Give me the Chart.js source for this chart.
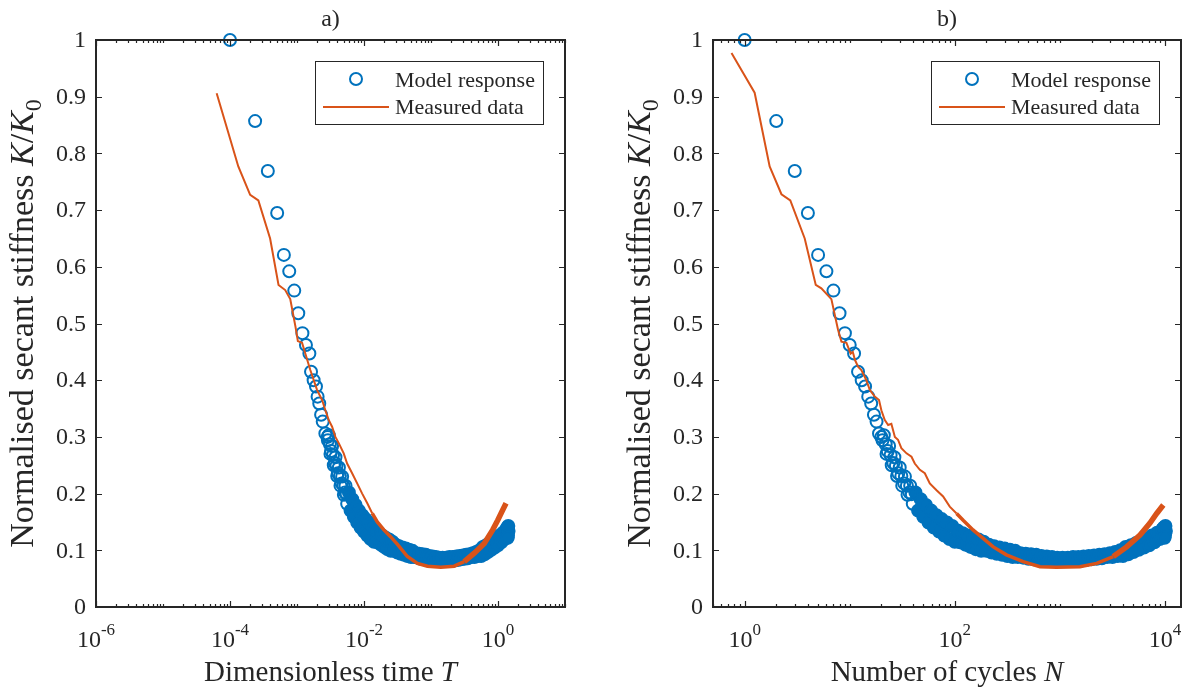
<!DOCTYPE html>
<html>
<head>
<meta charset="utf-8">
<script src="https://cdn.jsdelivr.net/npm/chart.js@4.4.0/dist/chart.umd.min.js"></script>
<style>
  html, body { margin: 0; padding: 0; background: #fff; }
  #wrap { position: relative; width: 1192px; height: 689px; }
  canvas { position: absolute; top: 0; }
</style>
</head>
<body>
<div id="wrap">
  <canvas id="chartA" width="596" height="689" style="left:0"></canvas>
  <canvas id="chartB" width="596" height="689" style="left:596px"></canvas>
</div>
<script>
// model response: one value per listed cycle, same stiffness values in both panels
const modelN = [1, 2, 3, 4, 5, 6, 7, 8, 9, 10, 11, 12, 13, 14, 15, 16, 17, 18, 19, 20,
  21.1, 22.4, 23.7, 25.1, 26.6, 28.2, 29.9, 31.6, 33.5, 35.5, 37.6, 39.8, 42.2, 44.7, 47.3, 50.1, 53.1, 56.2, 59.6, 63.1,
  66.8, 70.8, 75.0, 79.4, 84.1, 89.1, 94.4, 100,
  106, 112, 119, 126, 133, 141, 150, 158, 168, 178, 188, 200, 211, 224, 237, 251, 266, 282, 299, 316,
  335, 355, 376, 398, 422, 447, 473, 501, 531, 562, 596, 631, 668, 708, 750, 794, 841, 891, 944, 1000,
  1059, 1122, 1189, 1259, 1334, 1413, 1496, 1585, 1679, 1778, 1884, 1995, 2113, 2239, 2371, 2512, 2661, 2818, 2985, 3162,
  3350, 3548, 3758, 3981, 4217, 4467, 4732, 5012, 5309, 5623, 5957, 6310, 6683, 7079, 7499, 7943, 8414, 8913, 9441, 10000,
  9700, 10200, 9900, 10100,
  20.5, 22, 23, 24.5, 26, 27.5, 29, 31, 33, 35, 37, 39];
const modelT = [1.0e-4, 2.37e-4, 3.67e-4, 5.06e-4, 6.37e-4, 7.66e-4, 9.10e-4, 1.045e-3, 1.205e-3, 1.36e-3,
  1.53e-3, 1.62e-3, 1.77e-3, 1.92e-3, 2.03e-3, 2.15e-3, 2.29e-3, 2.42e-3, 2.65e-3, 2.87e-3,
  2.98e-3, 3.16e-3, 3.34e-3, 3.54e-3, 3.75e-3, 3.98e-3, 4.22e-3, 4.46e-3, 4.72e-3, 5.01e-3, 5.30e-3, 5.61e-3, 5.95e-3, 6.30e-3,
  6.67e-3, 7.06e-3, 7.49e-3, 7.92e-3, 8.40e-3, 8.90e-3, 9.42e-3, 9.98e-3, 1.058e-2, 1.12e-2, 1.186e-2, 1.256e-2, 1.331e-2, 1.41e-2,
  1.49e-2, 1.58e-2, 1.68e-2, 1.78e-2, 1.88e-2, 1.99e-2, 2.12e-2, 2.23e-2, 2.37e-2, 2.51e-2, 2.65e-2, 2.82e-2, 2.98e-2, 3.16e-2,
  3.34e-2, 3.54e-2, 3.75e-2, 3.98e-2, 4.22e-2, 4.46e-2, 4.72e-2, 5.01e-2, 5.30e-2, 5.61e-2, 5.95e-2, 6.30e-2, 6.67e-2, 7.06e-2,
  7.49e-2, 7.92e-2, 8.40e-2, 8.90e-2, 9.42e-2, 9.98e-2, 0.1058, 0.112, 0.1186, 0.1256, 0.1331, 0.141,
  0.149, 0.158, 0.168, 0.178, 0.188, 0.199, 0.211, 0.223, 0.237, 0.251, 0.266, 0.281, 0.298, 0.316, 0.334, 0.354, 0.375, 0.397,
  0.421, 0.446, 0.472, 0.500, 0.530, 0.561, 0.595, 0.630, 0.667, 0.707, 0.749, 0.793, 0.840, 0.890, 0.942, 0.998, 1.057, 1.120,
  1.186, 1.257, 1.331, 1.41,
  1.368, 1.438, 1.396, 1.424,
  2.89e-3, 3.10e-3, 3.24e-3, 3.45e-3, 3.67e-3, 3.88e-3, 4.09e-3, 4.37e-3, 4.65e-3, 4.94e-3, 5.22e-3, 5.50e-3];
const modelK = [1.000, 0.857, 0.769, 0.695, 0.621, 0.592, 0.558, 0.518, 0.483, 0.462,
  0.447, 0.415, 0.400, 0.389, 0.371, 0.359, 0.339, 0.327, 0.306, 0.300,
  0.303, 0.270, 0.284, 0.250, 0.264, 0.231, 0.246, 0.214, 0.230, 0.198, 0.214, 0.182, 0.202, 0.170, 0.190, 0.159, 0.180, 0.149, 0.170, 0.140,
  0.162, 0.133, 0.155, 0.126, 0.149, 0.120, 0.143, 0.115,
  0.135, 0.114, 0.130, 0.110, 0.126, 0.106, 0.122, 0.102, 0.119, 0.099, 0.115, 0.099, 0.110, 0.096, 0.107, 0.094, 0.105, 0.092, 0.103, 0.090,
  0.101, 0.088, 0.099, 0.088, 0.095, 0.087, 0.094, 0.085, 0.093, 0.084, 0.092, 0.084, 0.090, 0.083, 0.089, 0.082, 0.088, 0.082, 0.087, 0.081,
  0.087, 0.081, 0.087, 0.081, 0.088, 0.082, 0.088, 0.082, 0.089, 0.083, 0.090, 0.084, 0.091, 0.085, 0.092, 0.086, 0.093, 0.088, 0.095, 0.088,
  0.097, 0.090, 0.100, 0.090, 0.106, 0.093, 0.109, 0.097, 0.113, 0.101, 0.117, 0.105, 0.121, 0.109, 0.126, 0.114, 0.131, 0.120, 0.137, 0.126,
  0.140, 0.134, 0.122, 0.143,
  0.294, 0.287, 0.275, 0.268, 0.254, 0.249, 0.236, 0.231, 0.218, 0.214, 0.202, 0.199];

// measured data, panel b (cycles)
const measN = [0.75, 1.245, 1.73, 2.24, 2.72, 3.73, 4.75, 5.37, 6.69, 7.74, 8.34, 9.31, 10.2, 10.7, 11.2, 12.0, 12.9, 14.4, 15.5, 17.3,
  19.0, 20.0, 21.5, 23.2, 24.9, 26.9, 28.8, 31.0, 34.7, 38.7, 41.6, 46.5, 51.8, 57.8, 67.0, 77.4, 89.5, 104, 120, 149,
  186, 232, 310, 447, 646, 931, 1549, 2239, 3221, 4315, 5781, 7194, 8337, 9638];
const measNK = [0.977, 0.907, 0.777, 0.728, 0.717, 0.650, 0.568, 0.562, 0.543, 0.489, 0.468, 0.466, 0.447, 0.450, 0.436, 0.424, 0.418, 0.400, 0.383, 0.371,
  0.365, 0.347, 0.330, 0.321, 0.323, 0.300, 0.295, 0.280, 0.271, 0.265, 0.253, 0.242, 0.236, 0.218, 0.206, 0.195, 0.177, 0.165, 0.153, 0.136,
  0.121, 0.106, 0.092, 0.080, 0.071, 0.070, 0.071, 0.077, 0.089, 0.106, 0.127, 0.148, 0.165, 0.180];

// measured data, panel a (dimensionless time)
const measT = [6.32e-5, 1.33e-4, 2.0e-4, 2.65e-4, 3.97e-4, 5.30e-4, 6.67e-4, 7.93e-4, 9.5e-4, 1.03e-3, 1.19e-3,
  1.33e-3, 1.58e-3, 1.99e-3, 2.37e-3, 2.65e-3, 2.97e-3, 3.34e-3, 3.74e-3, 4.20e-3, 4.98e-3,
  5.60e-3, 6.65e-3, 7.91e-3, 9.40e-3, 1.12e-2, 1.33e-2, 1.58e-2, 1.98e-2, 2.49e-2, 3.14e-2,
  4.44e-2, 6.27e-2, 8.85e-2, 0.140, 0.221, 0.313, 0.442, 0.623, 0.833, 0.99, 1.175, 1.318];
const measTK = [0.906, 0.777, 0.727, 0.717, 0.650, 0.568, 0.559, 0.543, 0.494, 0.469, 0.466,
  0.447, 0.418, 0.383, 0.365, 0.347, 0.330, 0.318, 0.300, 0.289, 0.271,
  0.253, 0.236, 0.218, 0.200, 0.183, 0.165, 0.150, 0.136, 0.124, 0.111,
  0.089, 0.077, 0.072, 0.070, 0.072, 0.080, 0.095, 0.112, 0.136, 0.153, 0.171, 0.183];

// axes
const yTicks = [0, 0.1, 0.2, 0.3, 0.4, 0.5, 0.6, 0.7, 0.8, 0.9, 1];
const decadesA = [-6, -4, -2, 0];
const decadesB = [0, 2, 4];

const BLUE = '#0072BD';
const ORANGE = '#D95319';
const INK = '#262626';
const SERIF = '"Liberation Serif", "Times New Roman", serif';

function yLabelText(v) {
  return v === 0 ? '0' : v === 1 ? '1' : v.toFixed(1);
}

// box, inward ticks, labels and legend (MATLAB look)
function framePlugin(p) {
  return {
    id: 'frame',
    afterDraw(chart) {
      const { ctx, chartArea: a, scales: { x, y } } = chart;
      ctx.save();
      ctx.strokeStyle = INK;
      ctx.lineWidth = 1.2;
      ctx.beginPath();
      yTicks.forEach(v => {
        const py = Math.round(y.getPixelForValue(v)) + 0.5;
        ctx.moveTo(a.left, py); ctx.lineTo(a.left + 6, py);
        ctx.moveTo(a.right, py); ctx.lineTo(a.right - 6, py);
      });
      const d0 = Math.floor(Math.log10(p.xmin)), d1 = Math.ceil(Math.log10(p.xmax));
      for (let d = d0; d <= d1; d++) {
        for (let m = 1; m <= 9; m++) {
          const v = m * Math.pow(10, d);
          if (v < p.xmin * 0.999 || v > p.xmax * 1.001) continue;
          const len = (m === 1 && p.decades.includes(d)) ? 6 : 3;
          const px = Math.round(x.getPixelForValue(v)) + 0.5;
          ctx.moveTo(px, a.bottom); ctx.lineTo(px, a.bottom - len);
          ctx.moveTo(px, a.top); ctx.lineTo(px, a.top + len);
        }
      }
      ctx.stroke();
      ctx.lineWidth = 2;
      ctx.strokeRect(a.left, a.top, a.right - a.left, a.bottom - a.top);

      ctx.fillStyle = INK;
      // y tick labels
      ctx.font = '24px ' + SERIF;
      ctx.textAlign = 'right';
      ctx.textBaseline = 'middle';
      yTicks.forEach(v => ctx.fillText(yLabelText(v), a.left - 10, y.getPixelForValue(v) + 1));
      // x tick labels 10^d
      ctx.textAlign = 'left';
      ctx.textBaseline = 'alphabetic';
      p.decades.forEach(d => {
        const px = x.getPixelForValue(Math.pow(10, d));
        ctx.font = '24px ' + SERIF;
        const wb = ctx.measureText('10').width;
        ctx.font = '17px ' + SERIF;
        const we = ctx.measureText(String(d)).width;
        const x0 = px - (wb + we) / 2;
        ctx.font = '24px ' + SERIF;
        ctx.fillText('10', x0, a.bottom + 40);
        ctx.font = '17px ' + SERIF;
        ctx.fillText(String(d), x0 + wb, a.bottom + 28);
      });
      // x axis label
      const cx = (a.left + a.right) / 2;
      ctx.font = '29px ' + SERIF;
      const w1 = ctx.measureText(p.xLabel).width;
      ctx.font = 'italic 29px ' + SERIF;
      const w2 = ctx.measureText(p.xVar).width;
      const sx = cx - (w1 + w2) / 2;
      ctx.font = '29px ' + SERIF;
      ctx.fillText(p.xLabel, sx, 681);
      ctx.font = 'italic 29px ' + SERIF;
      ctx.fillText(p.xVar, sx + w1, 681);
      // title
      ctx.font = '24px ' + SERIF;
      ctx.textAlign = 'center';
      ctx.fillText(p.title, cx, 26);
      // y axis label, rotated
      ctx.save();
      ctx.translate(a.left - 63, (a.top + a.bottom) / 2);
      ctx.rotate(-Math.PI / 2);
      ctx.textAlign = 'left';
      const parts = [
        ['34px ', 'Normalised secant stiffness ', 0],
        ['italic 34px ', 'K', 0],
        ['34px ', '/', 0],
        ['italic 34px ', 'K', 0],
        ['24px ', '0', 8]
      ];
      let tw = 0;
      parts.forEach(pt => { ctx.font = pt[0] + SERIF; tw += ctx.measureText(pt[1]).width; });
      let tx = -tw / 2;
      parts.forEach(pt => {
        ctx.font = pt[0] + SERIF;
        ctx.fillText(pt[1], tx, pt[2]);
        tx += ctx.measureText(pt[1]).width;
      });
      ctx.restore();
      // legend
      const bw = 228, bh = 63;
      const bx = a.right - 22 - bw, by = a.top + 21;
      ctx.fillStyle = '#fff';
      ctx.fillRect(bx, by, bw, bh);
      ctx.lineWidth = 1;
      ctx.strokeStyle = INK;
      ctx.strokeRect(bx + 0.5, by + 0.5, bw, bh);
      ctx.strokeStyle = BLUE;
      ctx.lineWidth = 2;
      ctx.beginPath();
      ctx.arc(bx + 41, by + 18, 6, 0, Math.PI * 2);
      ctx.stroke();
      ctx.strokeStyle = ORANGE;
      ctx.beginPath();
      ctx.moveTo(bx + 8, by + 46); ctx.lineTo(bx + 74, by + 46);
      ctx.stroke();
      ctx.fillStyle = INK;
      ctx.font = '22px ' + SERIF;
      ctx.textAlign = 'left';
      ctx.fillText('Model response', bx + 80, by + 26);
      ctx.fillText('Measured data', bx + 80, by + 53);
      ctx.restore();
    }
  };
}

function makePanel(id, p) {
  return new Chart(document.getElementById(id), {
    type: 'scatter',
    data: {
      datasets: [
        {
          label: 'Model response',
          data: p.modelX.map((v, i) => ({ x: v, y: modelK[i] })),
          showLine: false,
          pointStyle: 'circle',
          pointRadius: 6,
          borderWidth: 2,
          borderColor: BLUE,
          // where the markers pile into a solid band
          backgroundColor: c => (c.raw && c.raw.x >= p.solidFrom) ? BLUE : 'rgba(0,0,0,0)',
          order: 2,
          clip: false
        },
        {
          label: 'Measured data',
          data: p.measX.map((v, i) => ({ x: v, y: p.measK[i] })),
          showLine: true,
          pointRadius: 0,
          borderColor: ORANGE,
          borderWidth: 2,
          order: 1,
          clip: false,
          segment: { borderWidth: c => p.lineWidth(c.p0.parsed.x) }
        }
      ]
    },
    options: {
      responsive: false,
      animation: false,
      devicePixelRatio: 1,
      layout: { padding: { left: 0, right: p.padRight, top: 40, bottom: 0 } },
      plugins: { legend: { display: false }, tooltip: { enabled: false } },
      scales: {
        x: {
          type: 'logarithmic', min: p.xmin, max: p.xmax,
          ticks: { display: false }, grid: { display: false }, border: { display: false },
          afterFit: s => { s.height = 82; }
        },
        y: {
          type: 'linear', min: 0, max: 1,
          ticks: { display: false }, grid: { display: false }, border: { display: false },
          afterFit: s => { s.width = p.yWidth; }
        }
      }
    },
    plugins: [framePlugin(p)]
  });
}

makePanel('chartA', {
  modelX: modelT, measX: measT, measK: measTK,
  xmin: 1e-6, xmax: 10, decades: decadesA,
  yWidth: 96, padRight: 31, solidFrom: 5.8e-3,
  title: 'a)', xLabel: 'Dimensionless time ', xVar: 'T',
  lineWidth: v => v < 0.012 ? 2 : v < 0.25 ? 3.5 : 5.5
});

makePanel('chartB', {
  modelX: modelN, measX: measN, measK: measNK,
  xmin: 0.5, xmax: 14200, decades: decadesB,
  yWidth: 117, padRight: 11, solidFrom: 41,
  title: 'b)', xLabel: 'Number of cycles ', xVar: 'N',
  lineWidth: v => v < 90 ? 2 : v < 2500 ? 3.5 : 5.5
});
</script>
</body>
</html>
